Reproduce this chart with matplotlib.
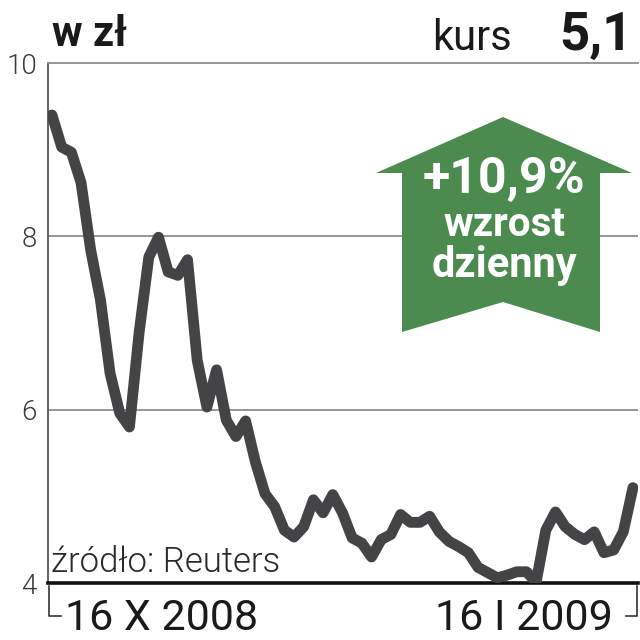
import numpy as np
import matplotlib
matplotlib.use("Agg")
from matplotlib import pyplot as plt
from matplotlib.patches import Polygon
from matplotlib.lines import Line2D

# daily close, 16 X 2008 .. 16 I 2009 (zł)
prices = [9.40, 9.03, 8.97, 8.62, 7.84, 7.27, 6.42, 5.96, 5.80, 6.89,
          7.76, 7.99, 7.59, 7.55, 7.73, 6.57, 6.03, 6.46, 5.88, 5.69,
          5.87, 5.40, 5.03, 4.88, 4.61, 4.53, 4.65, 4.96, 4.81, 5.02,
          4.81, 4.52, 4.46, 4.30, 4.50, 4.56, 4.79, 4.70, 4.70, 4.77,
          4.59, 4.48, 4.42, 4.35, 4.18, 4.12, 4.06, 4.09, 4.13, 4.13,
          4.01, 4.61, 4.82, 4.65, 4.56, 4.50, 4.59, 4.35, 4.38, 4.59,
          5.10]
y_ticks = [4, 6, 8, 10]
date_labels = ["16 X 2008", "16 I 2009"]
change_text = "+10,9%"
last_price = "5,1"

FONT = ["Roboto", "DejaVu Sans"]
W = H = 640
LINE_COL = "#444446"
GREEN = "#4b8b4f"


def fx(x):
    return x / W


def fy(y):
    return 1 - y / H


fig = plt.figure(figsize=(6.4, 6.4), dpi=100)
ax = fig.add_axes([fx(48), fy(583), fx(638) - fx(48), fy(63) - fy(583)])

ax.plot(np.arange(len(prices)), prices, color=LINE_COL, lw=7.8,
        solid_joinstyle="round", solid_capstyle="round", zorder=3)
ax.set_xlim(-0.41, len(prices) - 1 + 0.52)
ax.set_ylim(4, 10)

ax.set_yticks(y_ticks)
ax.set_yticklabels([str(t) for t in y_ticks], family=FONT, fontweight=300,
                   fontsize=20, color="#3a3a3a")
ax.tick_params(axis="y", length=0, pad=8)
ax.set_xticks([])

for t in [6, 8]:
    ax.axhline(t, color="#8e8e8e", lw=1.3, zorder=1)

ax.spines["right"].set_visible(False)
ax.spines["top"].set_color("#8e8e8e")
ax.spines["top"].set_linewidth(1.3)
ax.spines["left"].set_color("#555555")
ax.spines["left"].set_linewidth(1.3)
ax.spines["bottom"].set_color("#111111")
ax.spines["bottom"].set_linewidth(2.6)

# header
fig.text(fx(52), fy(46), "w zł", family=FONT, fontweight="bold", fontsize=30,
         color="#1a1a1a", ha="left", va="baseline")
fig.text(fx(432), fy(50), "kurs", family=FONT, fontsize=30, color="#1a1a1a",
         ha="left", va="baseline")
fig.text(fx(633), fy(50), last_price, family=FONT, fontweight="bold",
         fontsize=38, color="#1a1a1a", ha="right", va="baseline")

# source
ax.text(fx(51), fy(572), "źródło: Reuters", transform=fig.transFigure,
        family=FONT, fontweight=300, fontsize=25, color="#2a2a2a",
        ha="left", va="baseline", zorder=2)

# date brackets and labels
fig.add_artist(Line2D([fx(49), fx(49), fx(61)], [fy(586), fy(616), fy(616)],
                      color="#333333", lw=1.2))
fig.add_artist(Line2D([fx(626), fx(637), fx(637)], [fy(616), fy(616), fy(586)],
                      color="#333333", lw=1.2))
fig.text(fx(65), fy(630), date_labels[0], family=FONT, fontsize=31,
         color="#1a1a1a", ha="left", va="baseline")
fig.text(fx(613), fy(630), date_labels[1], family=FONT, fontsize=31,
         color="#1a1a1a", ha="right", va="baseline")

# green arrow
arrow_px = [(503, 117), (632, 173), (600, 173), (600, 332), (503, 302),
            (402, 332), (402, 173), (376, 173)]
fig.add_artist(Polygon([(fx(x), fy(y)) for x, y in arrow_px], closed=True,
                       facecolor=GREEN, edgecolor="none",
                       transform=fig.transFigure, zorder=5))
fig.text(fx(504), fy(193), change_text, family=FONT, fontweight="bold",
         fontsize=36, color="white", ha="center", va="baseline", zorder=6)
fig.text(fx(504), fy(236), "wzrost", family=FONT, fontweight="bold",
         fontsize=29, color="white", ha="center", va="baseline", zorder=6)
fig.text(fx(504), fy(277), "dzienny", family=FONT, fontweight="bold",
         fontsize=30, color="white", ha="center", va="baseline", zorder=6)

fig.savefig("out.png", dpi=100, facecolor="white")
